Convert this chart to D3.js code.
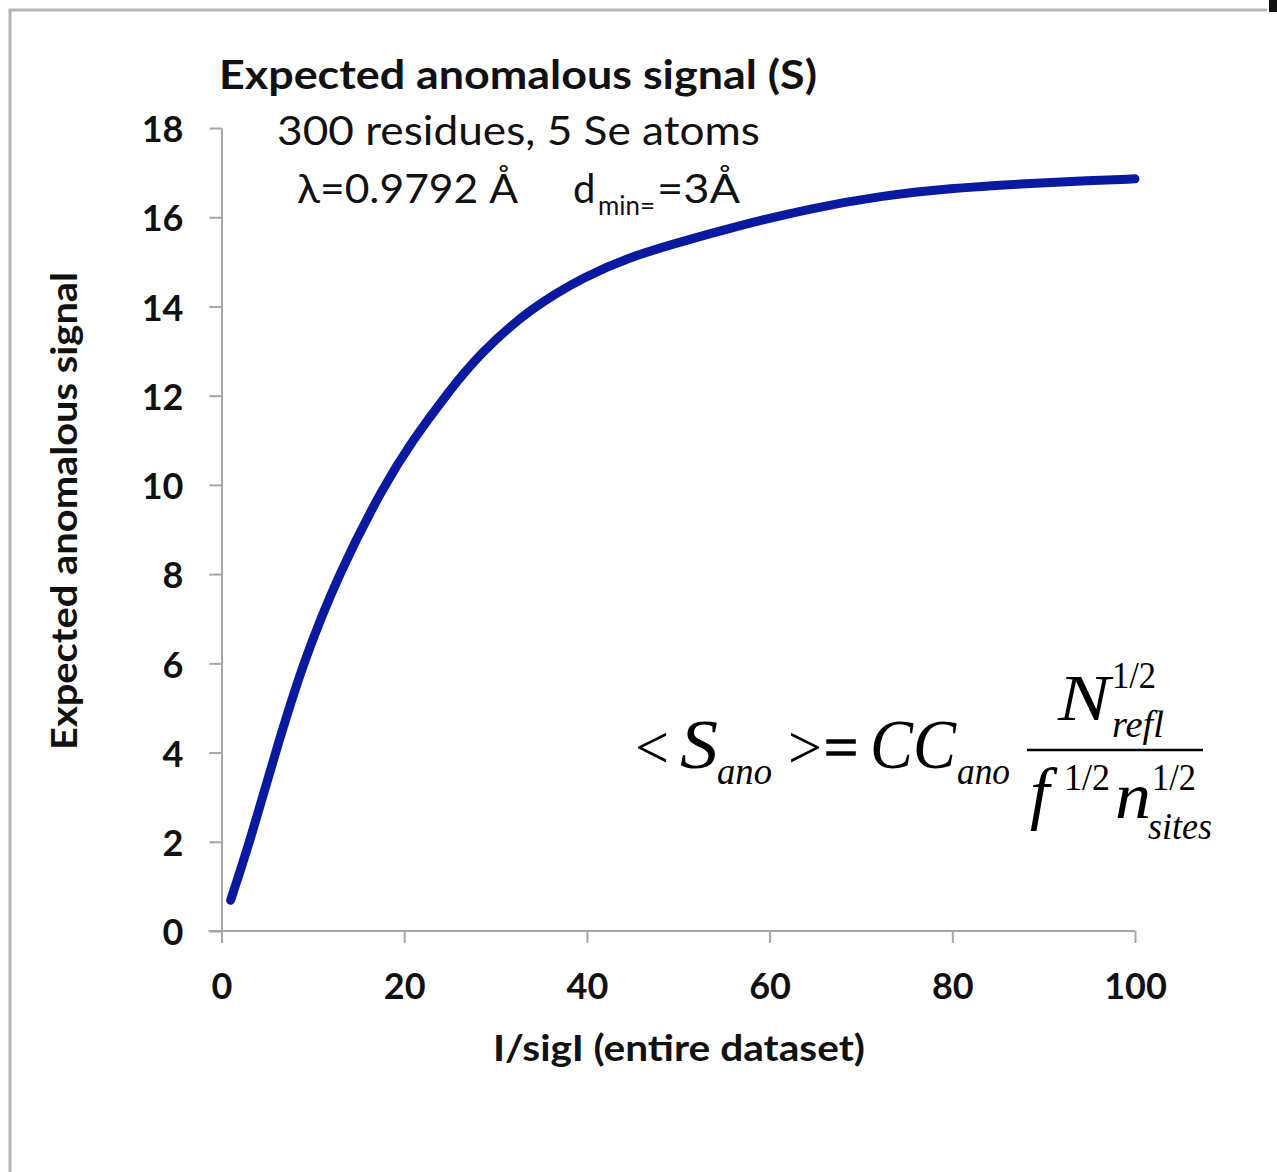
<!DOCTYPE html>
<html>
<head>
<meta charset="utf-8">
<script src="https://cdn.jsdelivr.net/npm/d3@7"></script>
<style>
  body { margin: 0; background: #fff; }
  svg { display: block; }
  .tick text { font-family: Lato, "Open Sans", sans-serif; font-weight: bold; font-size: 36px; fill: #111; }
  .lbl { font-family: Lato, "Open Sans", sans-serif; fill: #111; }
  .eq { font-family: "Liberation Serif", "DejaVu Serif", serif; fill: #000; }
</style>
</head>
<body>
<div id="chart"></div>
<script>
// values
var iSigI      = [1, 3.1, 5.9, 8.9, 12.8, 17.8, 21, 24.7, 28.3, 33.8, 40, 44.7, 49.1, 56.8, 64.5, 72.2, 79.8, 87.5, 95.2, 100];
var anomSignal = [0.69, 2, 4, 6, 8, 10, 11.02, 12.05, 12.95, 13.96, 14.7, 15.1, 15.38, 15.82, 16.2, 16.48, 16.65, 16.75, 16.82, 16.86];
var xTicks = [0, 20, 40, 60, 80, 100];
var yTicks = [0, 2, 4, 6, 8, 10, 12, 14, 16, 18];

var width = 1277, height = 1172;

var svg = d3.select("#chart").append("svg")
  .attr("width", width)
  .attr("height", height);

// frame of the original picture
svg.append("path")
  .attr("d", "M10,1172V10H1267")
  .attr("fill", "none")
  .attr("stroke", "#b4b4b4")
  .attr("stroke-width", 3);
svg.append("rect")
  .attr("x", 1269).attr("y", 0).attr("width", 8).attr("height", 12)
  .attr("fill", "#111");

var x = d3.scaleLinear().domain([0, 100]).range([221.5, 1135]);
var y = d3.scaleLinear().domain([0, 18]).range([931, 128]);

var xAxis = svg.append("g")
  .attr("transform", "translate(0," + y(0) + ")")
  .call(d3.axisBottom(x).tickValues(xTicks).tickSize(12).tickPadding(24).tickSizeOuter(0));

var yAxis = svg.append("g")
  .attr("transform", "translate(" + x(0) + ",0)")
  .call(d3.axisLeft(y).tickValues(yTicks).tickSize(12).tickPadding(26).tickSizeOuter(0));

[xAxis, yAxis].forEach(function(a) {
  a.select(".domain").attr("stroke", "#a6a6a6").attr("stroke-width", 2);
  a.selectAll(".tick line").attr("stroke", "#a6a6a6").attr("stroke-width", 2);
});
// x axis line also runs under the y ticks
xAxis.select(".domain").attr("d", "M" + (x(0) - 13) + ",0H" + x(100));
xAxis.selectAll(".tick text").attr("dy", "0.9em");
yAxis.selectAll(".tick text").attr("dy", "0.38em");

// the curve
var line = d3.line()
  .x(function(d, i) { return x(iSigI[i]); })
  .y(function(d) { return y(d); })
  .curve(d3.curveBasis);

svg.append("path")
  .datum(anomSignal)
  .attr("d", line)
  .attr("fill", "none")
  .attr("stroke", "#0a1aa0")
  .attr("stroke-width", 9)
  .attr("stroke-linecap", "round");

// titles
svg.append("text").attr("class", "lbl")
  .attr("x", 219).attr("y", 89)
  .attr("font-size", 40).attr("font-weight", "bold")
  .attr("textLength", 598).attr("lengthAdjust", "spacingAndGlyphs")
  .text("Expected anomalous signal (S)");

svg.append("text").attr("class", "lbl")
  .attr("x", 277).attr("y", 145)
  .attr("font-size", 40)
  .attr("textLength", 483).attr("lengthAdjust", "spacingAndGlyphs")
  .text("300 residues, 5 Se atoms");

svg.append("text").attr("class", "lbl")
  .attr("x", 297).attr("y", 203)
  .attr("font-size", 40)
  .attr("textLength", 221).attr("lengthAdjust", "spacingAndGlyphs")
  .text("λ=0.9792 Å");

var dmin = svg.append("text").attr("class", "lbl")
  .attr("x", 573).attr("y", 203)
  .attr("font-size", 40);
dmin.append("tspan").text("d");
dmin.append("tspan").attr("x", 598).attr("dy", 12).attr("font-size", 27)
  .attr("textLength", 57).attr("lengthAdjust", "spacingAndGlyphs").text("min=");
dmin.append("tspan").attr("x", 657).attr("dy", -12)
  .attr("textLength", 83).attr("lengthAdjust", "spacingAndGlyphs").text("=3Å");

svg.append("text").attr("class", "lbl")
  .attr("x", 679).attr("y", 1061)
  .attr("text-anchor", "middle")
  .attr("font-size", 36).attr("font-weight", "bold")
  .attr("textLength", 372).attr("lengthAdjust", "spacingAndGlyphs")
  .text("I/sigI (entire dataset)");

svg.append("text").attr("class", "lbl")
  .attr("transform", "translate(77,511) rotate(-90)")
  .attr("text-anchor", "middle")
  .attr("font-size", 36).attr("font-weight", "bold")
  .attr("textLength", 478).attr("lengthAdjust", "spacingAndGlyphs")
  .text("Expected anomalous signal");

// formula
var eq = svg.append("g").attr("class", "eq");
function eqText(tx, ty, size, str, len, italic) {
  var t = eq.append("text")
    .attr("x", tx).attr("y", ty)
    .attr("font-size", size)
    .attr("font-style", italic ? "italic" : "normal")
    .text(str);
  if (len) t.attr("textLength", len).attr("lengthAdjust", "spacingAndGlyphs");
  return t;
}
eqText(635, 768, 62, "<", 34, false);
eqText(680, 768, 70, "S", 38, true);
eqText(717, 784, 38, "ano", 55, true);
eqText(788, 768, 62, ">", 34, false);
eqText(824, 768, 62, "=", 34, false).attr("stroke", "#000").attr("stroke-width", 1.5);
eqText(870, 768, 70, "CC", 86, true);
eqText(957, 784, 38, "ano", 53, true);
eq.append("line")
  .attr("x1", 1027).attr("x2", 1203)
  .attr("y1", 750).attr("y2", 750)
  .attr("stroke", "#000").attr("stroke-width", 2.5);
eqText(1058, 720, 66, "N", 52, true);
eqText(1112, 688, 38, "1/2", 44, false);
eqText(1112, 737, 38, "refl", 52, true);
eqText(1030, 816, 70, "f", 0, true);
eqText(1064, 790, 38, "1/2", 46, false);
eqText(1115, 818, 66, "n", 36, true);
eqText(1152, 790, 38, "1/2", 44, false);
eqText(1148, 839, 38, "sites", 64, true);
</script>
</body>
</html>
